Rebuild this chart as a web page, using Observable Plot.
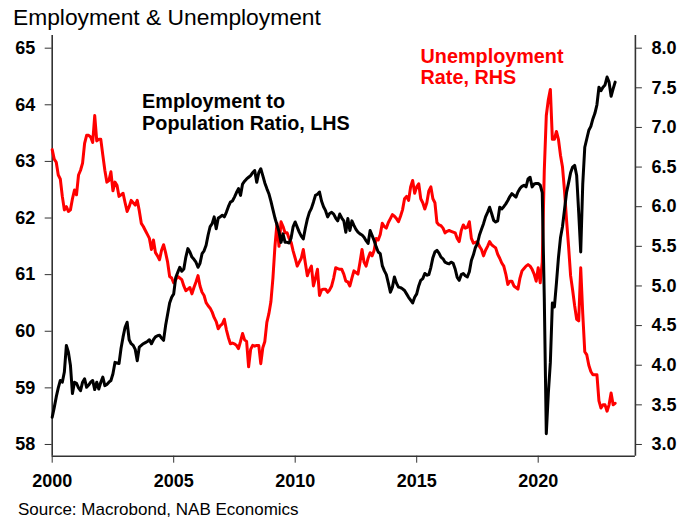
<!DOCTYPE html>
<html>
<head>
<meta charset="utf-8">
<script src="https://cdn.jsdelivr.net/npm/d3@7"></script>
<script src="https://cdn.jsdelivr.net/npm/@observablehq/plot@0.6"></script>
<style>
  body { margin: 0; background: #fff; }
  #wrap { position: relative; width: 695px; height: 520px; font-family: "Liberation Sans", Arial, sans-serif; color: #000; }
  #title { position: absolute; left: 13px; top: 3px; font-size: 22.8px; line-height: 28px; white-space: nowrap; }
  #chart { position: absolute; left: 0; top: 30px; }
  #source { position: absolute; left: 18px; top: 500px; font-size: 17px; line-height: 20px; white-space: nowrap; }
</style>
</head>
<body>
<div id="wrap">
  <div id="title">Employment &amp; Unemployment</div>
  <div id="chart"></div>
  <div id="source">Source: Macrobond, NAB Economics</div>
</div>
<script>
// Monthly data, Jan 2000 – Mar 2023
const startYear = 2000;

// Employment to population ratio (%), LHS
const employmentRatio = [
  58.48, 58.65, 58.84, 59.0, 59.13, 59.1, 59.28, 59.75, 59.63, 59.4, 58.9, 59.1,
  59.08, 59.0, 58.95, 59.1, 59.16, 59.01, 59.05, 59.1, 59.13, 58.97, 59.1, 58.98,
  59.1, 59.19, 59.04, 59.06, 59.1, 59.13, 59.25, 59.45, 59.44, 59.43, 59.7, 59.9,
  60.07, 60.16, 59.85, 59.78, 59.75, 59.68, 59.48, 59.72, 59.75, 59.78, 59.8, 59.82,
  59.85, 59.78, 59.85, 59.9, 59.92, 59.93, 59.88, 59.84, 60.1, 60.3, 60.5, 60.6,
  60.66, 60.95, 61.04, 61.13, 61.06, 61.1, 61.31, 61.46, 61.4, 61.31, 61.27, 61.22,
  61.13, 61.2, 61.37, 61.42, 61.52, 61.7, 61.85, 61.9, 62.02, 61.81, 62.0, 62.02,
  62.05, 62.02, 62.1, 62.2, 62.28, 62.3, 62.37, 62.45, 62.52, 62.4, 62.6, 62.65,
  62.69, 62.72, 62.75, 62.8, 62.84, 62.63, 62.8, 62.87, 62.75, 62.62, 62.52, 62.43,
  62.3, 62.15, 62.0, 61.88, 61.76, 61.57, 61.72, 61.57, 61.57, 61.56, 61.65, 61.85,
  61.93, 61.84, 61.75, 61.68, 61.63, 61.82, 61.98, 62.1, 62.17, 62.28, 62.4, 62.42,
  62.46, 62.3, 62.2, 62.13, 62.02, 62.08, 62.1, 62.07, 62.0, 61.95, 62.07, 62.0,
  61.95, 61.75, 61.99, 61.78, 61.95, 61.87, 61.8, 61.75, 61.72, 61.7, 61.66, 61.6,
  61.55, 61.78, 61.69, 61.6, 61.49, 61.4, 61.37, 61.16, 61.07, 61.0, 60.85, 60.69,
  60.78, 60.96, 60.85, 60.78, 60.77, 60.75, 60.72, 60.66, 60.6, 60.55, 60.5, 60.6,
  60.66, 60.8, 60.9, 60.93, 61.02, 60.99, 61.0, 61.13, 61.3, 61.4, 61.43, 61.38,
  61.31, 61.28, 61.22, 61.2, 61.19, 61.22, 61.2, 61.1, 60.95, 60.9, 61.0, 61.02,
  60.98, 60.96, 61.05, 61.25, 61.35, 61.48, 61.55, 61.7, 61.8, 61.9, 62.02, 62.1,
  62.19, 62.08, 61.96, 61.93, 61.95, 62.19, 62.16, 62.2, 62.25, 62.31, 62.38, 62.43,
  62.4, 62.37, 62.46, 62.52, 62.56, 62.58, 62.55, 62.69, 62.72, 62.55, 62.6, 62.61,
  62.61, 62.58, 62.45, 60.6, 58.19, 58.9, 59.45, 60.5, 60.43, 60.85, 61.3, 61.65,
  61.85, 62.15, 62.45, 62.62, 62.8, 62.9, 62.93, 62.75, 62.1, 61.4, 62.6, 63.25,
  63.4, 63.55, 63.62, 63.75, 63.85, 64.0, 64.31, 64.25, 64.31, 64.35, 64.49, 64.4,
  64.15, 64.28, 64.4
];

// Unemployment rate (%), RHS
const unemploymentRate = [
  6.72, 6.6, 6.56, 6.4, 6.35, 6.13, 5.96, 6.0, 5.94, 5.96, 6.1, 6.21,
  6.15, 6.4, 6.46, 6.55, 6.8, 6.9, 6.9, 6.88, 6.81, 7.15, 6.83, 6.85,
  6.85, 6.65, 6.46, 6.31, 6.33, 6.44, 6.2, 6.31, 6.27, 6.13, 6.15, 6.17,
  6.05, 5.94, 6.0, 6.08, 6.05, 6.02, 6.08, 5.95, 5.79, 5.75, 5.7, 5.65,
  5.6, 5.46, 5.58, 5.42, 5.38, 5.33, 5.45, 5.52, 5.42, 5.3, 5.12, 5.1,
  5.04, 5.08, 5.12, 5.1, 5.08, 5.0, 4.94, 4.96, 4.98, 4.9, 4.98, 5.05,
  5.13, 5.0, 4.92, 4.88, 4.79, 4.75, 4.72, 4.67, 4.6, 4.55, 4.46, 4.5,
  4.52, 4.58, 4.45, 4.35, 4.27, 4.28, 4.27, 4.25, 4.21, 4.3, 4.4, 4.32,
  4.3, 3.98, 4.2, 4.25, 4.24, 4.25, 4.25, 4.02, 4.22, 4.3, 4.54, 4.65,
  4.8, 5.1, 5.5, 5.79, 5.5, 5.81, 5.75, 5.67, 5.67, 5.6, 5.55, 5.44,
  5.35, 5.25, 5.3, 5.35, 5.46, 5.29, 5.13, 5.2, 5.25, 5.0, 5.1, 5.21,
  4.88, 4.95, 4.96, 4.96, 4.92, 4.95, 5.0, 5.1, 5.23, 5.22, 5.21, 5.21,
  5.15, 5.06, 5.05, 5.0, 5.1, 5.19, 5.17, 5.15, 5.3, 5.46, 5.3, 5.25,
  5.35, 5.42, 5.38, 5.45, 5.6, 5.58, 5.65, 5.79, 5.75, 5.73, 5.8, 5.85,
  5.9, 5.88, 5.85, 5.81, 5.88, 5.96, 6.1, 6.13, 6.08, 6.25, 6.33, 6.17,
  6.25, 6.29, 6.1, 6.05, 5.97, 6.05, 6.2, 6.25, 6.1, 6.05, 5.8, 5.77,
  5.76, 5.73, 5.67, 5.69, 5.7, 5.69, 5.68, 5.67, 5.6, 5.56, 5.7, 5.77,
  5.73, 5.74, 5.81, 5.6, 5.54, 5.55, 5.56, 5.5, 5.46, 5.38, 5.45, 5.5,
  5.56, 5.52, 5.5, 5.48, 5.4, 5.35, 5.29, 5.25, 5.15, 5.02, 5.06, 5.06,
  5.0, 4.98, 4.96, 5.1, 5.19, 5.22, 5.25, 5.27, 5.25, 5.21, 5.15, 5.06,
  5.23, 5.04, 5.3, 6.45, 7.15, 7.35, 7.48, 6.85, 6.85, 6.95, 6.85, 6.65,
  6.5, 6.2, 5.83, 5.5, 5.13, 4.95, 4.75, 4.58, 4.56, 5.23, 4.65, 4.17,
  4.13, 4.0, 3.92, 3.88, 3.88, 3.88, 3.55, 3.46, 3.5, 3.5, 3.42, 3.5,
  3.65, 3.5, 3.52
];

// Axis ticks
const xTicks = [2000, 2005, 2010, 2015, 2020];
const leftTicks = [58, 59, 60, 61, 62, 63, 64, 65];
const rightTicks = [3.0, 3.5, 4.0, 4.5, 5.0, 5.5, 6.0, 6.5, 7.0, 7.5, 8.0];

// Series labels
const seriesLabels = [
  {text: "Employment to\nPopulation Ratio, LHS", year: 2003.7, lhs: 64.22, color: "#000000"},
  {text: "Unemployment\nRate, RHS", year: 2015.16, lhs: 65.02, color: "#ff0000"}
];

// Dual-axis mapping: RHS range 3–8 aligned to LHS range 58–65
const lMin = d3.min(leftTicks), lMax = d3.max(leftTicks);
const rMin = d3.min(rightTicks), rMax = d3.max(rightTicks);
const k = (lMax - lMin) / (rMax - rMin);
const toLeft = u => lMin + (u - rMin) * k;
const fromLeft = v => rMin + (v - lMin) / k;

const rows = employmentRatio.map((v, i) => ({
  t: startYear + i / 12,
  epr: v,
  ur: unemploymentRate[i]
}));

const xDomain = [2000, 2024];
const yDomain = [57.793, 65.224];

const chart = Plot.plot({
  width: 695,
  height: 465,
  marginLeft: 51.7,
  marginRight: 60.1,
  marginTop: 5,
  marginBottom: 39.3,
  style: {
    fontFamily: '"Liberation Sans", Arial, sans-serif',
    fontSize: "18px",
    fontWeight: "bold",
    color: "#000",
    background: "#fff",
    overflow: "visible"
  },
  x: {domain: xDomain},
  y: {domain: yDomain},
  marks: [
    Plot.axisY(leftTicks, {anchor: "left", tickSize: 7, tickPadding: 10, tickFormat: d => String(d), label: null, stroke: "#333"}),
    Plot.axisY(rightTicks.map(toLeft), {anchor: "right", tickSize: 6, tickPadding: 10, tickFormat: v => fromLeft(v).toFixed(1), label: null, stroke: "#333"}),
    Plot.axisX(xTicks, {anchor: "bottom", tickSize: 7, tickPadding: 11, tickFormat: d => String(d), label: null, stroke: "#333"}),
    Plot.ruleY([yDomain[0]], {stroke: "#333", strokeWidth: 1.6}),
    Plot.ruleX(xDomain, {stroke: "#333", strokeWidth: 1.6}),
    Plot.line(rows, {x: "t", y: d => toLeft(d.ur), stroke: "#ff0000", strokeWidth: 3}),
    Plot.line(rows, {x: "t", y: "epr", stroke: "#000000", strokeWidth: 3}),
    Plot.text(seriesLabels, {
      x: "year", y: "lhs", text: "text", fill: "color",
      textAnchor: "start", lineAnchor: "top", lineHeight: 1.1,
      fontSize: 19.8, fontWeight: "bold"
    })
  ]
});
document.getElementById("chart").appendChild(chart);
</script>
</body>
</html>
